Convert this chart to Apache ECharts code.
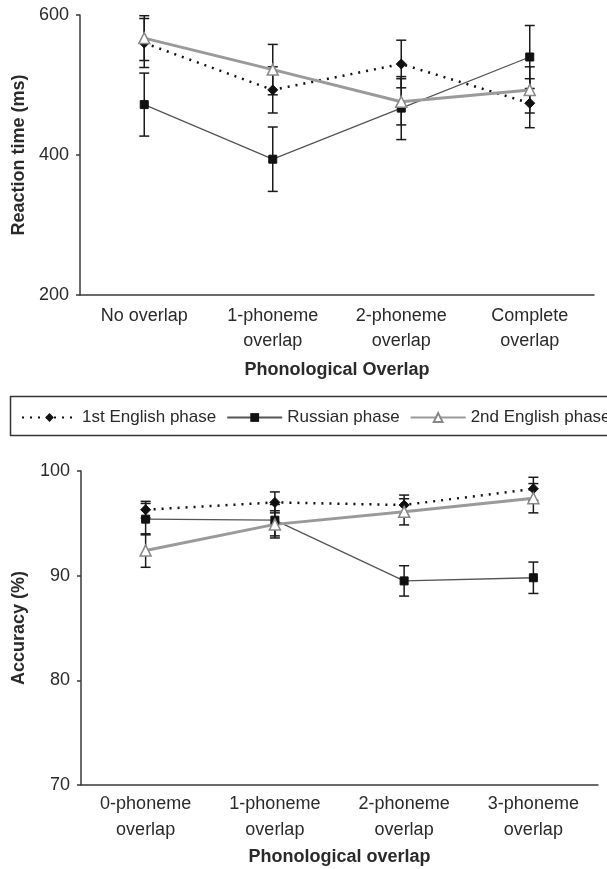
<!DOCTYPE html>
<html>
<head>
<meta charset="utf-8">
<title>Phonological overlap</title>
<script src="https://cdn.jsdelivr.net/npm/echarts@6/dist/echarts.min.js"></script>
<style>
  html, body { margin: 0; padding: 0; background: #fff; }
  #main { width: 607px; height: 869px; }
</style>
</head>
<body>
<div id="main"></div>
<script>
// top panel: reaction time
const rtCategories = ['No overlap', '1-phoneme\noverlap', '2-phoneme\noverlap', 'Complete\noverlap']
const rtEnglish1 = [560, 493, 530, 474]
const rtEnglish1Err = [35, 33, 34, 35]
const rtRussian = [472, 394, 467, 540]
const rtRussianErr = [45, 46, 45, 45]
const rtEnglish2 = [567, 522, 476, 493]
const rtEnglish2Err = [32, 36, 33, 33]
const rtTicks = [200, 400, 600]

// bottom panel: accuracy
const accCategories = ['0-phoneme\noverlap', '1-phoneme\noverlap', '2-phoneme\noverlap', '3-phoneme\noverlap']
const accEnglish1 = [96.3, 97.0, 96.75, 98.3]
const accEnglish1Err = [0.8, 1.0, 0.95, 1.1]
const accRussian = [95.4, 95.3, 89.5, 89.8]
const accRussianErr = [1.5, 1.5, 1.45, 1.5]
const accEnglish2 = [92.4, 94.9, 96.1, 97.4]
const accEnglish2Err = [1.6, 1.3, 1.25, 1.4]
const accTicks = [70, 80, 90, 100]

const seriesNames = ['1st English phase', 'Russian phase', '2nd English phase']

const font = "'Liberation Sans', Arial, sans-serif"
const axisColor = '#3a3a3a'
const textColor = '#2a2a2a'

const styles = [
  { // 1st English: dotted black, diamond
    symbol: 'diamond', symbolSize: 10,
    lineStyle: { color: '#111', width: 2.5, type: [2, 6] },
    itemStyle: { color: '#111', borderColor: '#111' }
  },
  { // Russian: thin solid, square
    symbol: 'rect', symbolSize: 8,
    lineStyle: { color: '#555', width: 1.3, type: 'solid' },
    itemStyle: { color: '#111', borderColor: '#111' }
  },
  { // 2nd English: thick gray, open triangle
    symbol: 'triangle', symbolSize: 11,
    lineStyle: { color: '#9a9a9a', width: 3, type: 'solid' },
    itemStyle: { color: '#fff', borderColor: '#888', borderWidth: 1.5 }
  }
]

function toErrData(values, errs) {
  return values.map((v, i) => [i, v, errs[i]])
}

function renderErr(params, api) {
  const i = api.value(0)
  const v = api.value(1)
  const e = api.value(2)
  const hi = api.coord([i, v + e])
  const lo = api.coord([i, v - e])
  const w = 5
  const style = { stroke: '#1a1a1a', lineWidth: 1.5 }
  return {
    type: 'group',
    children: [
      { type: 'line', shape: { x1: hi[0], y1: hi[1], x2: lo[0], y2: lo[1] }, style },
      { type: 'line', shape: { x1: hi[0] - w, y1: hi[1], x2: hi[0] + w, y2: hi[1] }, style },
      { type: 'line', shape: { x1: lo[0] - w, y1: lo[1], x2: lo[0] + w, y2: lo[1] }, style }
    ]
  }
}

function lineSeries(name, data, idx, style) {
  return Object.assign({
    name,
    type: 'line',
    data,
    xAxisIndex: idx,
    yAxisIndex: idx,
    z: 4,
    animation: false
  }, style)
}

function errSeries(values, errs, idx) {
  return {
    type: 'custom',
    xAxisIndex: idx,
    yAxisIndex: idx,
    data: toErrData(values, errs),
    encode: { x: 0, y: 1 },
    renderItem: renderErr,
    z: 3,
    silent: true,
    animation: false
  }
}

function catAxis(idx, data, name, nameGap, margin, lineHeight) {
  return {
    type: 'category',
    gridIndex: idx,
    data,
    boundaryGap: true,
    name,
    nameLocation: 'middle',
    nameGap,
    nameTextStyle: { fontFamily: font, fontSize: 18, fontWeight: 'bold', color: textColor },
    axisLine: { lineStyle: { color: axisColor, width: 1.5 } },
    axisTick: { length: 5, lineStyle: { color: axisColor, width: 1.5 } },
    axisLabel: { fontFamily: font, fontSize: 18, color: textColor, margin, lineHeight, interval: 0 },
    splitLine: { show: false }
  }
}

function valAxis(idx, ticks, name, nameGap) {
  return {
    type: 'value',
    gridIndex: idx,
    min: ticks[0],
    max: ticks[ticks.length - 1],
    interval: ticks[1] - ticks[0],
    name,
    nameLocation: 'middle',
    nameGap,
    nameTextStyle: { fontFamily: font, fontSize: 18, fontWeight: 'bold', color: textColor },
    axisLine: { show: true, lineStyle: { color: axisColor, width: 1.5 } },
    axisTick: { show: true, length: 4, lineStyle: { color: axisColor, width: 1.5 } },
    axisLabel: { fontFamily: font, fontSize: 18, color: textColor, margin: 11 },
    splitLine: { show: false }
  }
}

const chart = echarts.init(document.getElementById('main'), null, { renderer: 'canvas' })

chart.setOption({
  backgroundColor: '#fff',
  animation: false,
  grid: [
    { left: 80, top: 15, width: 514, height: 280 },
    { left: 81, top: 471, width: 517, height: 314 }
  ],
  legend: {
    data: seriesNames,
    left: 16,
    top: 404,
    width: 900,
    itemWidth: 55,
    itemHeight: 11,
    itemGap: 10,
    textStyle: { fontFamily: font, fontSize: 17, color: textColor }
  },
  graphic: [{
    type: 'rect',
    left: 8,
    top: 394,
    shape: { width: 650, height: 39 },
    style: { fill: 'none', stroke: '#333', lineWidth: 1.5 },
    silent: true
  }],
  xAxis: [
    catAxis(0, rtCategories, 'Phonological Overlap', 66, 9, 25),
    catAxis(1, accCategories, 'Phonological overlap', 63, 6, 26)
  ],
  yAxis: [
    valAxis(0, rtTicks, 'Reaction time (ms)', 52),
    valAxis(1, accTicks, 'Accuracy (%)', 53)
  ],
  series: [
    lineSeries(seriesNames[0], rtEnglish1, 0, styles[0]),
    lineSeries(seriesNames[1], rtRussian, 0, styles[1]),
    lineSeries(seriesNames[2], rtEnglish2, 0, styles[2]),
    errSeries(rtEnglish1, rtEnglish1Err, 0),
    errSeries(rtRussian, rtRussianErr, 0),
    errSeries(rtEnglish2, rtEnglish2Err, 0),
    lineSeries(seriesNames[0], accEnglish1, 1, styles[0]),
    lineSeries(seriesNames[1], accRussian, 1, styles[1]),
    lineSeries(seriesNames[2], accEnglish2, 1, styles[2]),
    errSeries(accEnglish1, accEnglish1Err, 1),
    errSeries(accRussian, accRussianErr, 1),
    errSeries(accEnglish2, accEnglish2Err, 1)
  ]
})
</script>
</body>
</html>
